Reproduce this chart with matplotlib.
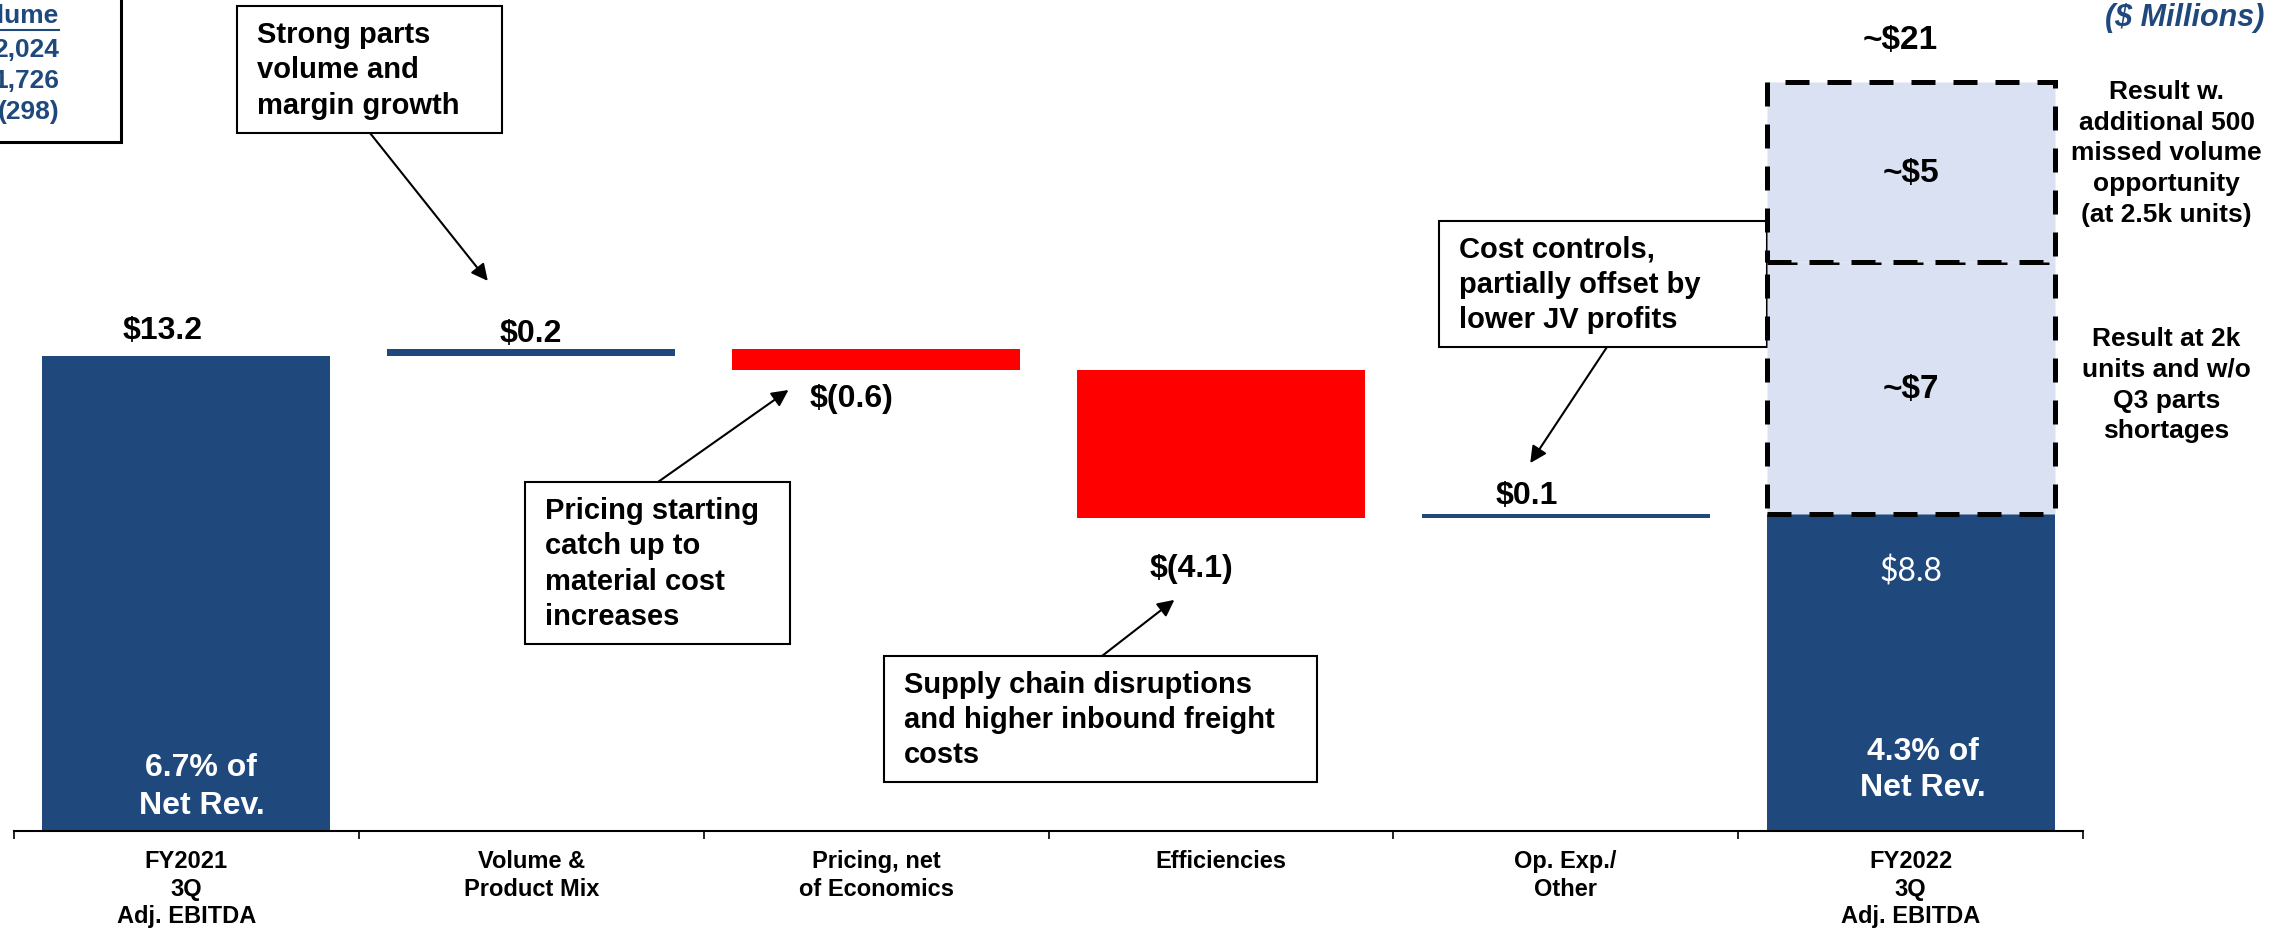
import numpy as np
import matplotlib.pyplot as plt
from matplotlib.patches import Rectangle
from matplotlib.lines import Line2D

plt.rcParams['font.family'] = ['Liberation Sans', 'DejaVu Sans']
plt.rcParams['font.weight'] = 'bold'

categories = ["FY2021\n3Q\nAdj. EBITDA", "Volume &\nProduct Mix", "Pricing, net\nof Economics",
              "Efficiencies", "Op. Exp./\nOther", "FY2022\n3Q\nAdj. EBITDA"]
start_value = 13.2
start_label = "$13.2"
deltas = [0.2, -0.6, -4.1, 0.1]
delta_labels = ["$0.2", "$(0.6)", "$(4.1)", "$0.1"]
end_value = 8.8
end_label = "$8.8"
upside_values = [7, 5]
upside_labels = ["~$7", "~$5"]
upside_total_label = "~$21"
upside_notes = ["Result at 2k\nunits and w/o\nQ3 parts\nshortages",
                "Result w.\nadditional 500\nmissed volume\nopportunity\n(at 2.5k units)"]
margin_labels = ["6.7% of\nNet Rev.", "4.3% of\nNet Rev."]
volume_header = "Volume"
volume_rows = ["2,024", "1,726", "(298)"]

NAVY = '#1F497D'
RED = '#FF0000'
LIGHT = '#D9E1F2'
W, H = 2274, 929


def fp(px, py):
    # figure fraction from pixel position measured from the top-left corner
    return px / W, 1 - py / H


fig = plt.figure(figsize=(W / 100, H / 100), dpi=100)
ax = fig.add_axes([14 / W, 97 / H, 2069 / W, 832 / H])
ax.set_xlim(-0.5, 5.5)
ax.set_ylim(0, 832 / 36)

x = np.arange(len(categories))
levels = start_value + np.cumsum(deltas)
prev = np.concatenate([[start_value], levels[:-1]])
bottoms = np.minimum(prev, levels)
heights = np.abs(deltas)
colors = [NAVY if d > 0 else RED for d in deltas]
bw = 0.835

ax.bar(x[0], start_value, bw, color=NAVY)
ax.bar(x[1:5], heights, bw, bottom=bottoms, color=colors)
ax.bar(x[5], end_value, bw, color=NAVY)

# value labels: (x, y anchor, pixel offset, vertical alignment)
ax.annotate(start_label, (x[0], start_value), xytext=(-24, 18), textcoords='offset pixels',
            ha='center', va='baseline', fontsize=23)
offsets = [(0, 8), (-25, -13), (-29, -35), (-39, 11)]
for i, (d, lab) in enumerate(zip(deltas, delta_labels)):
    if d > 0:
        ax.annotate(lab, (x[i + 1], levels[i]), xytext=offsets[i], textcoords='offset pixels',
                    ha='center', va='baseline', fontsize=23)
    else:
        ax.annotate(lab, (x[i + 1], levels[i]), xytext=offsets[i], textcoords='offset pixels',
                    ha='center', va='top', fontsize=23)
ax.annotate(end_label, (x[5], end_value), xytext=(0, -41), textcoords='offset pixels',
            ha='center', va='top', fontsize=23, color='white', family='Lato', fontweight='normal')

# margin text inside the total bars
ax.annotate(margin_labels[0], (x[0], 0), xytext=(15, 45), textcoords='offset pixels',
            ha='center', va='center', fontsize=23, color='white', linespacing=1.33)
ax.annotate(margin_labels[1], (x[5], 0), xytext=(12, 62), textcoords='offset pixels',
            ha='center', va='center', fontsize=23, color='white', linespacing=1.28)

# dashed upside boxes stacked on the FY2022 bar
base = end_value
note_shift = [4, 20]
for v, lab, note, sh in zip(upside_values, upside_labels, upside_notes, note_shift):
    ax.bar(x[5], v, bw, bottom=base, color=LIGHT, edgecolor='black', linewidth=3.6,
           linestyle=(0, (4.8, 3.6)), zorder=3)
    ax.text(x[5], base + v / 2, lab, ha='center', va='center', fontsize=24, zorder=4)
    ax.annotate(note, (x[5], base + v / 2), xytext=(256, sh), textcoords='offset pixels',
                ha='center', va='center', fontsize=19, linespacing=1.35, annotation_clip=False)
    base += v
ax.annotate(upside_total_label, (x[5], base), xytext=(-10, 34), textcoords='offset pixels',
            ha='center', va='baseline', fontsize=24, annotation_clip=False)


def callout(box, text, start, tip):
    left, top, right, bottom = box
    x0, y0 = fp(left, bottom)
    ax.add_patch(Rectangle((x0, y0), (right - left) / W, (bottom - top) / H,
                           transform=fig.transFigure, facecolor='white', edgecolor='black',
                           linewidth=1.5, clip_on=False, zorder=2))
    tx, ty = fp(left + 20, (top + bottom) / 2)
    ax.text(tx, ty, text, transform=fig.transFigure, ha='left', va='center',
            fontsize=21, linespacing=1.33, zorder=2.5, clip_on=False)
    ax.annotate('', xy=tip, xycoords='data', xytext=(start[0], H - start[1]),
                textcoords='figure pixels',
                arrowprops=dict(arrowstyle='-|>', color='black', lw=1.5,
                                mutation_scale=25, shrinkA=0, shrinkB=0))


callout((237, 7, 502, 134), "Strong parts\nvolume and\nmargin growth", (370, 134), (0.874, 15.28))
callout((525, 483, 790, 645), "Pricing starting\ncatch up to\nmaterial cost\nincreases",
        (658, 483), (1.746, 12.25))
callout((884, 657, 1317, 783), "Supply chain disruptions\nand higher inbound freight\ncosts",
        (1102, 657), (2.865, 6.42))
callout((1439, 222, 1767, 348), "Cost controls,\npartially offset by\nlower JV profits",
        (1607, 348), (3.897, 10.22))

# axis styling
ax.set_xticks(x, categories, fontsize=17, linespacing=1.26)
ax.set_xticks(np.arange(-0.5, 6), minor=True)
ax.tick_params(axis='x', which='major', length=0, pad=13)
ax.tick_params(axis='x', which='minor', length=5.8, width=1.2, direction='out')
ax.set_yticks([])
for side in ['left', 'right', 'top']:
    ax.spines[side].set_visible(False)
ax.spines['bottom'].set_linewidth(1.5)

fig.text(*fp(2264, 18), "($ Millions)", ha='right', va='center', style='italic',
         color=NAVY, fontsize=22)

# volume table at the top-left edge
fig.text(*fp(59, 16), volume_header, ha='right', va='center', color=NAVY, fontsize=19)
fig.add_artist(Line2D([0, 59 / W], [1 - 31 / H] * 2, color=NAVY, lw=1.5))
for i, row in enumerate(volume_rows):
    fig.text(*fp(59, 50 + 31 * i), row, ha='right', va='center', color=NAVY, fontsize=19)
fig.add_artist(Rectangle(fp(-10, 143), 131 / W, 153 / H, transform=fig.transFigure,
                         fill=False, edgecolor='black', linewidth=2.2))

fig.savefig("out.png", dpi=100)
